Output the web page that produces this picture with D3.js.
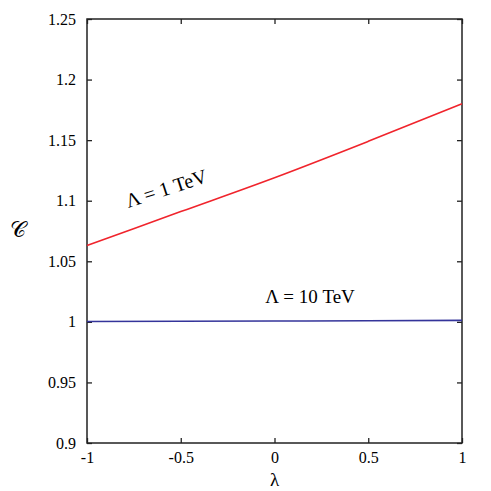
<!DOCTYPE html>
<html>
<head>
<meta charset="utf-8">
<script src="https://cdn.jsdelivr.net/npm/d3@7"></script>
<style>
  body { margin: 0; background: #fff; }
  svg text { font-family: "Liberation Serif", "Times New Roman", Times, serif !important; }
</style>
</head>
<body>
<svg width="491" height="491"></svg>
<script>
// values
var lambda = [-1, -0.5, 0, 0.5, 1];
var c1TeV = [1.063, 1.091, 1.119, 1.149, 1.180];
var c10TeV = [1.0003, 1.0005, 1.0007, 1.0009, 1.0012];
var xTicks = [-1, -0.5, 0, 0.5, 1];
var yTicks = [0.9, 0.95, 1, 1.05, 1.1, 1.15, 1.2, 1.25];

var svg = d3.select("svg"),
    margin = {top: 19, right: 29, bottom: 48, left: 87},
    width = +svg.attr("width") - margin.left - margin.right,
    height = +svg.attr("height") - margin.top - margin.bottom,
    g = svg.append("g").attr("transform", "translate(" + margin.left + "," + margin.top + ")");

var x = d3.scaleLinear().domain([-1, 1]).range([0, width]);
var y = d3.scaleLinear().domain([0.9, 1.25]).range([height, 0]);

var fmt = function(d) { return String(d); };

// inward ticks on all four sides
function styleAxis(sel) {
  sel.attr("font-family", null).attr("font-size", 16);
  sel.selectAll(".domain").remove();
  sel.selectAll(".tick line").attr("stroke", "#222").attr("stroke-width", 1.3);
  sel.selectAll(".tick text").attr("fill", "#000");
}

g.append("g")
    .attr("transform", "translate(0," + height + ")")
    .call(d3.axisBottom(x).tickValues(xTicks).tickFormat(fmt).tickSizeInner(-5).tickPadding(9))
    .call(styleAxis);

g.append("g")
    .call(d3.axisTop(x).tickValues(xTicks).tickSizeInner(-5).tickFormat(""))
    .call(styleAxis);

g.append("g")
    .call(d3.axisLeft(y).tickValues(yTicks).tickFormat(fmt).tickSizeInner(-5).tickPadding(11))
    .call(styleAxis);

g.append("g")
    .attr("transform", "translate(" + width + ",0)")
    .call(d3.axisRight(y).tickValues(yTicks).tickSizeInner(-5).tickFormat(""))
    .call(styleAxis);

// frame
g.append("rect")
    .attr("width", width)
    .attr("height", height)
    .attr("fill", "none")
    .attr("stroke", "#222")
    .attr("stroke-width", 1.5);

var line = d3.line()
    .curve(d3.curveMonotoneX)
    .x(function(d) { return x(d[0]); })
    .y(function(d) { return y(d[1]); });

g.append("path")
    .datum(d3.zip(lambda, c1TeV))
    .attr("fill", "none")
    .attr("stroke", "#f0242c")
    .attr("stroke-width", 1.6)
    .attr("d", line);

g.append("path")
    .datum(d3.zip(lambda, c10TeV))
    .attr("fill", "none")
    .attr("stroke", "#34349a")
    .attr("stroke-width", 1.6)
    .attr("d", line);

// curve labels
g.append("text")
    .attr("transform", "translate(" + x(-0.78) + "," + y(1.094) + ") rotate(-18)")
    .attr("font-size", 20)
    .text("Λ = 1 TeV");

g.append("text")
    .attr("x", x(-0.05))
    .attr("y", y(1.0155))
    .attr("font-size", 19)
    .text("Λ = 10 TeV");

// axis titles
svg.append("text")
    .attr("x", margin.left + width / 2)
    .attr("y", 486)
    .attr("text-anchor", "middle")
    .attr("font-size", 19)
    .text("λ");

svg.append("text")
    .attr("x", 18)
    .attr("y", 237)
    .attr("text-anchor", "middle")
    .attr("font-size", 22)
    .text("𝒞");
</script>
</body>
</html>
